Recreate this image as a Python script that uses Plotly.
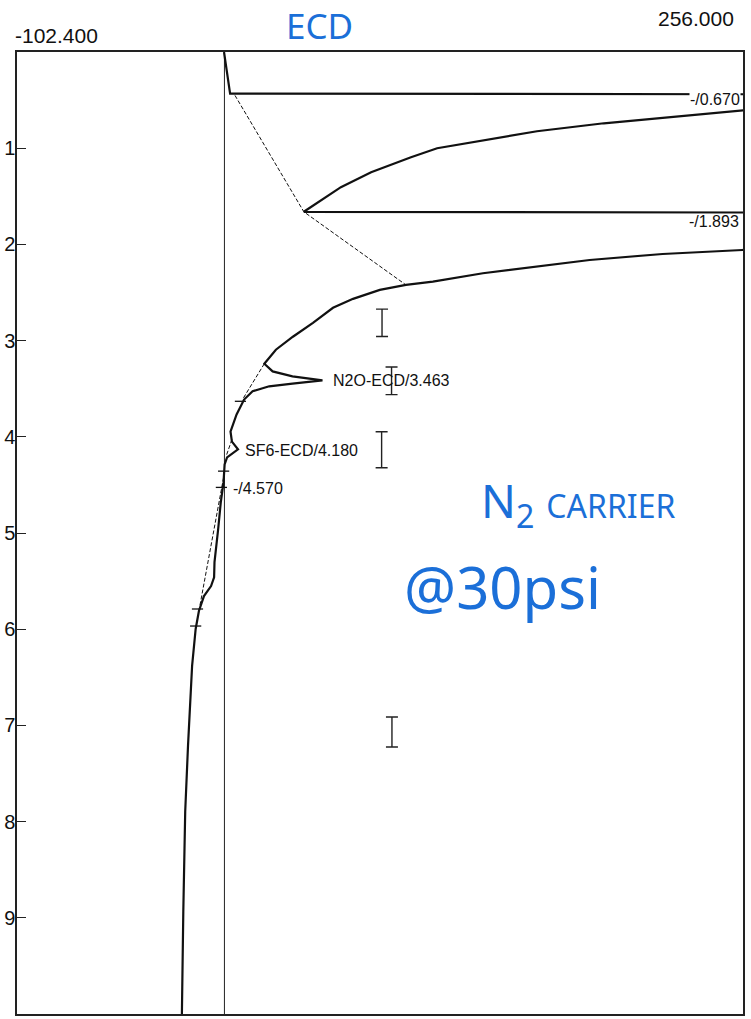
import plotly.graph_objects as go

# ---- data (time in min, signal in detector units) ----
time_min = [0.0, 0.433, 0.44, 0.59, 0.607, 0.679, 0.741, 0.824, 0.938, 1.0, 1.094, 1.249, 1.405, 1.661,
            1.67, 2.04, 2.058, 2.100, 2.162, 2.234, 2.300, 2.387, 2.421, 2.473, 2.566, 2.659, 2.815, 2.960,
            3.095, 3.240, 3.320, 3.372, 3.413, 3.447, 3.475, 3.527, 3.613, 3.768, 3.945, 4.05, 4.13, 4.215,
            4.287, 4.474, 4.681, 4.961, 5.303, 5.46, 5.552, 5.656, 5.811, 5.998, 6.378, 7.208, 7.895, 8.932, 10.0]
signal = [-0.2, 2.8, 300, 300, 256.2, 220.3, 187.3, 154.3, 121.7, 105.0, 92.1, 72.4, 57.5, 39.2,
          300, 300, 255.7, 216.3, 180.3, 152.2, 127.6, 102.9, 89.6, 76.7, 63.5, 53.6, 43.7, 33.8,
          25.4, 19.7, 23.8, 33.6, 48.4, 33.6, 22.1, 13.9, 9.7, 6.0, 3.0, 3.7, 6.7, 1.3,
          0.1, -0.45, -1.8, -3.1, -4.9, -5.1, -6.6, -10.1, -12.6, -14.2, -15.95, -17.97, -19.36, -20.3, -21.0]

baseline_t = [0.451, 1.661, 2.421, None, 3.24, 3.613, None, 4.028, 4.204, None, 4.422, 5.811]
baseline_s = [5.2, 39.2, 89.6, None, 19.7, 8.9, None, 3.7, 0.8, None, -0.4, -12.6]

mark_t = [3.631, 4.357, 4.526, 5.79, 5.967]
mark_s = [7.9, -0.4, -1.5, -13.3, -14.2]

event_t = [2.815, 3.418, 4.135, 7.069]
event_s = [77.8, 82.5, 77.6, 82.7]
event_half = [0.142, 0.144, 0.187, 0.156]

peak_labels = ["-/0.670", "-/1.893", "N2O-ECD/3.463", "SF6-ECD/4.180", "-/4.570"]
peak_label_t = [0.492, 1.757, 3.415, 4.142, 4.536]
peak_label_s = [254.8, 254.3, 53.3, 9.7, 3.6]
peak_label_anchor = ["right", "right", "left", "left", "left"]

y_ticks = [1, 2, 3, 4, 5, 6, 7, 8, 9]
x_min, x_max = -102.4, 256.0

FONT = "Arial, Liberation Sans, sans-serif"
INK = "#1b6fd8"

fig = go.Figure()

# zero line
fig.add_trace(go.Scatter(x=[0, 0], y=[0, 10], mode="lines",
                         line=dict(color="#222", width=1), hoverinfo="skip"))
# baselines
fig.add_trace(go.Scatter(x=baseline_s, y=baseline_t, mode="lines",
                         line=dict(color="#111", width=1.0, dash="4px,2px"), hoverinfo="skip"))
# signal
fig.add_trace(go.Scatter(x=signal, y=time_min, mode="lines",
                         line=dict(color="#111", width=2.2)))
# peak start/end marks
fig.add_trace(go.Scatter(x=mark_s, y=mark_t, mode="markers",
                         marker=dict(symbol="line-ew", size=8, line=dict(color="#111", width=1.3))))
# event bars
fig.add_trace(go.Scatter(x=event_s, y=event_t, mode="markers",
                         marker=dict(size=1, color="rgba(0,0,0,0)"),
                         error_y=dict(type="data", array=event_half, color="#222",
                                      thickness=1.4, width=6)))

for txt, t, s, anc in zip(peak_labels, peak_label_t, peak_label_s, peak_label_anchor):
    fig.add_annotation(x=s, y=t, xref="x", yref="y", text=txt, showarrow=False,
                       xanchor=anc, yanchor="middle",
                       font=dict(family=FONT, size=16, color="#111"),
                       bgcolor="white" if txt == "-/0.670" else "rgba(0,0,0,0)", borderpad=0)

# range labels
fig.add_annotation(xref="paper", yref="paper", x=-0.006, y=1.0, yanchor="bottom", xanchor="left",
                   text="%.3f" % x_min, showarrow=False, yshift=3,
                   font=dict(family=FONT, size=21, color="#111"))
fig.add_annotation(xref="paper", yref="paper", x=0.99, y=1.0, yanchor="bottom", xanchor="right",
                   text="%.3f" % x_max, showarrow=False, yshift=20,
                   font=dict(family=FONT, size=21, color="#111"))

# handwritten notes
fig.add_annotation(xref="paper", yref="paper", x=0.417, y=1.0, text="ECD", showarrow=False,
                   xanchor="center", yanchor="bottom", yshift=2, borderpad=0,
                   font=dict(family="Noto Sans", size=35, color=INK))
fig.add_annotation(xref="paper", yref="paper", x=0.773, y=0.531,
                   text="N<sub>2</sub> <span style='font-size:32px'>CARRIER</span>", showarrow=False,
                   xanchor="center", yanchor="middle",
                   font=dict(family="Noto Sans", size=46, color=INK))
fig.add_annotation(xref="paper", yref="paper", x=0.669, y=0.444, text="@30psi", showarrow=False,
                   xanchor="center", yanchor="middle",
                   font=dict(family="Noto Sans", size=58, color=INK))

fig.update_xaxes(range=[x_min, x_max], showticklabels=False, ticks="", showgrid=False, zeroline=False,
                 showline=True, mirror=True, linecolor="#222", linewidth=1.5, automargin=False)
fig.update_yaxes(range=[10, 0], tickvals=y_ticks, ticks="inside", ticklen=9, tickwidth=1.3,
                 tickcolor="#222", showgrid=False, zeroline=False, automargin=False,
                 ticklabelstandoff=-4,
                 showline=True, mirror=True, linecolor="#222", linewidth=1.5,
                 tickfont=dict(family=FONT, size=20, color="#111"))

fig.update_layout(width=751, height=1019, margin=dict(l=17, r=8, t=52, b=5, autoexpand=False),
                  paper_bgcolor="white", plot_bgcolor="white", showlegend=False)

fig.write_html("out.html", config={"displayModeBar": False},
               post_script="document.body.style.margin='0';")
